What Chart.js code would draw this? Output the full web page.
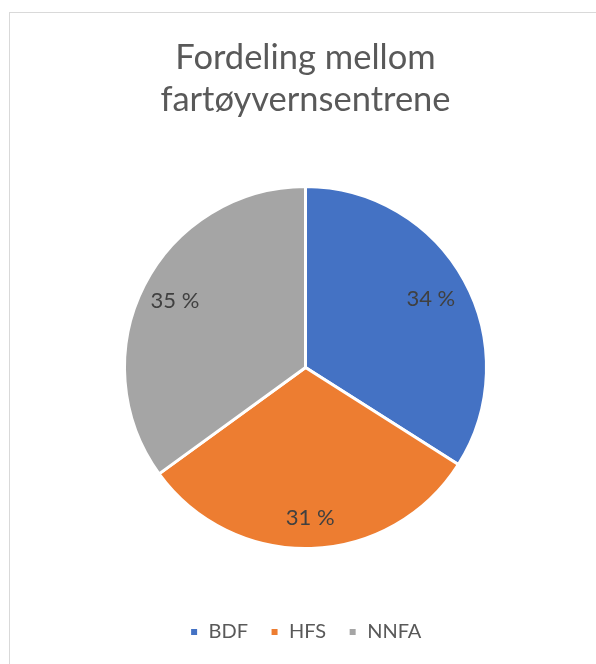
<!DOCTYPE html>
<html>
<head>
<meta charset="utf-8">
<script src="https://cdn.jsdelivr.net/npm/chart.js@4/dist/chart.umd.min.js"></script>
<style>
  html, body { margin: 0; padding: 0; background: #ffffff; overflow: hidden; }
  #frame { position: absolute; left: 9px; top: 12px; width: 700px; height: 800px; border: 1px solid #d9d9d9; }
  #wrap { position: absolute; left: 0; top: 0; width: 596px; height: 664px; }
</style>
</head>
<body>
<div id="frame"></div>
<div id="wrap"><canvas id="c" width="596" height="664"></canvas></div>
<script>
const titleLines = ["Fordeling mellom", "fartøyvernsentrene"];
const categories = ["BDF", "HFS", "NNFA"];
const shares = [34, 31, 35];
const sliceColors = ["#4472C4", "#ED7D31", "#A5A5A5"];
const labelRadius = [0.79, 0.83, 0.81];

const FONT = "Lato, 'Open Sans', sans-serif";

const pieLabels = {
  id: 'pieLabels',
  afterDatasetsDraw(chart) {
    const ctx = chart.ctx;
    const meta = chart.getDatasetMeta(0);
    const data = chart.data.datasets[0].data;
    ctx.save();
    ctx.font = "22px " + FONT;
    ctx.fillStyle = "#404040";
    ctx.textAlign = "center";
    ctx.textBaseline = "middle";
    meta.data.forEach((arc, i) => {
      const p = arc.getProps(['x', 'y', 'startAngle', 'endAngle', 'outerRadius'], true);
      const mid = (p.startAngle + p.endAngle) / 2;
      const r = p.outerRadius * labelRadius[i];
      ctx.fillText(data[i] + " %", p.x + Math.cos(mid) * r, p.y + Math.sin(mid) * r);
    });
    ctx.restore();
  }
};

new Chart(document.getElementById('c'), {
  type: 'pie',
  data: {
    labels: categories,
    datasets: [{
      data: shares,
      backgroundColor: sliceColors,
      borderColor: "#ffffff",
      borderWidth: 3,
      hoverOffset: 0
    }]
  },
  options: {
    responsive: false,
    animation: false,
    events: [],
    layout: { padding: { left: 123, right: 108, top: 0, bottom: 12 } },
    plugins: {
      title: {
        display: true,
        text: titleLines,
        color: "#595959",
        font: { family: FONT, size: 34.5, weight: 'normal', lineHeight: 42 / 34.5 },
        padding: { top: 36.5, bottom: 14.5 }
      },
      legend: {
        display: true,
        position: 'bottom',
        labels: {
          color: "#595959",
          font: { family: FONT, size: 20 },
          boxWidth: 9,
          boxHeight: 9,
          padding: 22
        }
      },
      tooltip: { enabled: false }
    }
  },
  plugins: [pieLabels]
});
</script>
</body>
</html>
